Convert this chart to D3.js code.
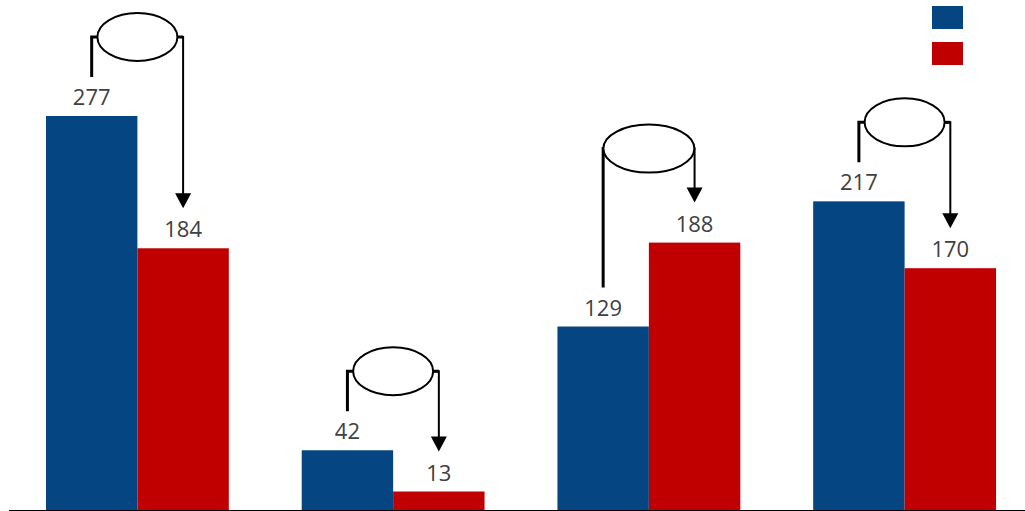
<!DOCTYPE html>
<html><head><meta charset="utf-8">
<script src="https://cdn.jsdelivr.net/npm/d3@7"></script>
<style>html,body{margin:0;padding:0;background:#fff;overflow:hidden}</style>
</head><body>
<svg id="chart" width="1025" height="511"></svg>
<script>
const categories = ["A", "B", "C", "D"];
const seriesNames = ["Series 1", "Series 2"];
const series1 = [277, 42, 129, 217];
const series2 = [184, 13, 188, 170];

const W = 1025, H = 511;
const colors = ["#044582", "#C00000"];
const svg = d3.select("#chart");

const x0 = d3.scaleBand().domain(categories).range([9.5, 1032.5]).paddingInner(0.285).paddingOuter(0.1426);
const x1 = d3.scaleBand().domain(seriesNames).range([0, x0.bandwidth()]);
const y = d3.scaleLinear().domain([0, 277]).range([510, 116]);

const data = categories.map((c, i) => ({cat: c, vals: [series1[i], series2[i]]}));

const g = svg.append("g");
const groups = g.selectAll("g.grp").data(data).enter().append("g")
  .attr("transform", d => `translate(${x0(d.cat)},0)`);

groups.selectAll("rect").data(d => d.vals.map((v, k) => ({k, v}))).enter().append("rect")
  .attr("x", d => x1(seriesNames[d.k]))
  .attr("y", d => y(d.v))
  .attr("width", x1.bandwidth() + (d => 0)(0))
  .attr("height", d => y(0) - y(d.v))
  .attr("fill", d => colors[d.k]);

groups.selectAll("text.lbl").data(d => d.vals.map((v, k) => ({k, v}))).enter().append("text")
  .attr("class", "lbl")
  .attr("x", d => x1(seriesNames[d.k]) + x1.bandwidth() / 2)
  .attr("y", d => y(d.v) - 11)
  .attr("text-anchor", "middle")
  .attr("font-family", "'Open Sans', sans-serif")
  .attr("font-size", 22)
  .attr("fill", "#404040")
  .text(d => d.v);

// axis baseline
svg.append("line").attr("x1", 9).attr("x2", W).attr("y1", 510.5).attr("y2", 510.5)
  .attr("stroke", "#000").attr("stroke-width", 1);

// annotations: bracket + ellipse + arrow
groups.each(function(d) {
  const gg = d3.select(this);
  const [a, b] = d.vals;
  const inc = b > a;
  const xa = x1(seriesNames[0]) + x1.bandwidth() / 2;
  const xb = x1(seriesNames[1]) + x1.bandwidth() / 2;
  const cx = x0.bandwidth() / 2;
  const topY = y(Math.max(a, b));
  const by = topY - (inc ? 94 : 79);
  const rx = inc ? 45.5 : 40, ry = 24;
  const leftBottom = y(a) - 39;
  const tip = y(b) - 40;
  gg.append("path")
    .attr("d", `M${xa},${leftBottom}V${by}H${cx - rx}`)
    .attr("fill", "none").attr("stroke", "#000").attr("stroke-width", 3);
  gg.append("path")
    .attr("d", `M${cx + rx},${by}H${xb}V${tip - 14}`)
    .attr("fill", "none").attr("stroke", "#000").attr("stroke-width", 2);
  gg.append("path")
    .attr("d", `M${xb - 8},${tip - 15}L${xb + 8},${tip - 15}L${xb},${tip}Z`)
    .attr("fill", "#000");
  gg.append("line").attr("x1", cx + rx).attr("x2", xb).attr("y1", by).attr("y2", by)
    .attr("stroke", "#000").attr("stroke-width", 3);
  gg.append("ellipse").attr("cx", cx).attr("cy", by).attr("rx", rx).attr("ry", ry)
    .attr("fill", "#fff").attr("stroke", "#000").attr("stroke-width", 2);
});

// legend (swatches only)
const legend = svg.append("g");
legend.selectAll("rect").data(seriesNames).enter().append("rect")
  .attr("x", 932).attr("y", (d, i) => 6 + i * 36)
  .attr("width", 31).attr("height", 23)
  .attr("fill", (d, i) => colors[i]);
</script>
</body></html>
